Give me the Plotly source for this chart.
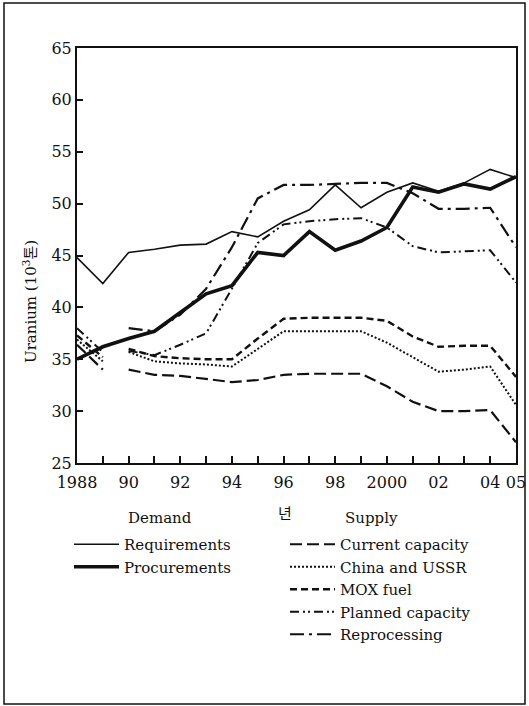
import plotly.graph_objects as go

# ---------------- data ----------------
years = list(range(1988, 2006))
supply_years = list(range(1990, 2006))
early_years = [1988, 1989]

requirements = [44.8, 42.3, 45.3, 45.6, 46.0, 46.1, 47.3, 46.8, 48.3, 49.4, 51.8, 49.6,
                51.1, 52.0, 51.2, 52.0, 53.3, 52.5]
procurements = [35.0, 36.2, 37.0, 37.7, 39.5, 41.3, 42.1, 45.3, 45.0, 47.3, 45.5, 46.4,
                47.7, 51.6, 51.1, 51.9, 51.4, 52.6]

current_capacity = [34.0, 33.5, 33.4, 33.1, 32.8, 33.0, 33.5, 33.6, 33.6, 33.6,
                    32.4, 30.9, 30.0, 30.0, 30.1, 27.0]
china_ussr = [35.7, 34.8, 34.6, 34.5, 34.3, 36.0, 37.7, 37.7, 37.7, 37.7,
              36.6, 35.2, 33.8, 34.0, 34.3, 30.6]
mox_fuel = [36.0, 35.3, 35.1, 35.0, 35.0, 37.0, 38.9, 39.0, 39.0, 39.0,
            38.7, 37.2, 36.2, 36.3, 36.3, 33.3]
planned_capacity = [35.8, 35.4, 36.4, 37.5, 41.8, 46.2, 48.0, 48.3, 48.5, 48.6,
                    47.7, 45.9, 45.3, 45.4, 45.5, 42.4]
reprocessing = [38.0, 37.7, 39.3, 41.8, 45.8, 50.5, 51.8, 51.8, 51.9, 52.0,
                52.0, 51.0, 49.5, 49.5, 49.6, 45.8]

early_current = [36.4, 34.0]
early_china = [36.9, 34.8]
early_mox = [37.3, 35.2]
early_planned = [38.0, 35.7]

y_tick_values = [25, 30, 35, 40, 45, 50, 55, 60, 65]
x_tick_values = [1988, 1990, 1992, 1994, 1996, 1998, 2000, 2002, 2004, 2005]
x_tick_labels = ["1988", "90", "92", "94", "96", "98", "2000", "02", "04", "05"]

# ---------------- figure ----------------
SERIF = "DejaVu Serif, Liberation Serif, Noto Sans CJK KR, serif"
BLACK = "#111111"

fig = go.Figure()

fig.add_trace(go.Scatter(x=years, y=requirements, mode="lines", name="Requirements",
                         line=dict(color=BLACK, width=1.6), legend="legend"))
fig.add_trace(go.Scatter(x=years, y=procurements, mode="lines", name="Procurements",
                         line=dict(color=BLACK, width=3.6), legend="legend"))

supply = [
    ("Current capacity", current_capacity, early_current, "12px,5px", 2.2),
    ("China and USSR", china_ussr, early_china, "2px,2px", 2.0),
    ("MOX fuel", mox_fuel, early_mox, "7px,4px", 2.4),
    ("Planned capacity", planned_capacity, early_planned, "9px,4px,2px,3px,2px,4px", 2.0),
    ("Reprocessing", reprocessing, None, "14px,5px,3px,5px", 2.2),
]
for name, vals, early, dash, w in supply:
    fig.add_trace(go.Scatter(x=supply_years, y=vals, mode="lines", name=name,
                             legendgroup=name, legend="legend2",
                             line=dict(color=BLACK, width=w, dash=dash)))
    if early is not None:
        fig.add_trace(go.Scatter(x=early_years, y=early, mode="lines", name=name,
                                 legendgroup=name, legend="legend2", showlegend=False,
                                 line=dict(color=BLACK, width=w, dash=dash)))

L, R, T, B = 77, 13, 48, 243
W, H = 529, 706
pw, ph = W - L - R, H - T - B


def px(x):
    return (x - L) / pw


def py(y):
    return (H - B - y) / ph


LEG_FONT = dict(family=SERIF, size=15, color=BLACK)


def label(text, x, y, size=15, family=SERIF, angle=0):
    return dict(text=text, x=px(x), y=py(y), xref="paper", yref="paper",
                xanchor="center", yanchor="middle", textangle=angle,
                showarrow=False, font=dict(family=family, size=size, color=BLACK))


fig.update_layout(
    width=W, height=H,
    margin=dict(l=L, r=R, t=T, b=B, autoexpand=False),
    paper_bgcolor="white", plot_bgcolor="white",
    font=dict(family=SERIF, size=16, color=BLACK),
    xaxis=dict(range=[1988, 2005], tickmode="array", tickvals=x_tick_values,
               ticktext=x_tick_labels, ticks="inside", ticklen=7, tickwidth=1.5,
               tickcolor=BLACK, showline=True, linewidth=2, linecolor=BLACK,
               mirror=True, showgrid=False, zeroline=False, automargin=False,
               ticklabelstandoff=4,
               minor=dict(tickmode="linear", tick0=1988, dtick=1, ticks="inside",
                          ticklen=7, tickwidth=1.5, tickcolor=BLACK, showgrid=False),
               tickfont=dict(family=SERIF, size=16, color=BLACK)),
    yaxis=dict(range=[25, 65], tickmode="array", tickvals=y_tick_values,
               ticks="inside", ticklen=6, tickwidth=2, tickcolor=BLACK,
               showline=True, linewidth=2, linecolor=BLACK, mirror=True,
               showgrid=False, zeroline=False, automargin=False,
               tickfont=dict(family=SERIF, size=16, color=BLACK)),
    showlegend=True,
    legend=dict(x=px(69), y=py(528), xanchor="left", yanchor="top",
                bgcolor="rgba(0,0,0,0)", font=LEG_FONT,
                tracegroupgap=0, itemwidth=45),
    legend2=dict(x=px(285), y=py(528), xanchor="left", yanchor="top",
                 bgcolor="rgba(0,0,0,0)", font=LEG_FONT,
                 tracegroupgap=0, itemwidth=45),
    annotations=[
        label("Uranium (10<sup>3</sup>톤)", 30, 302, angle=-90),
        label("Demand", 160, 518),
        label("Supply", 371, 518),
        label("년", 285, 512, family="Noto Sans CJK KR"),
    ],
    shapes=[
        dict(type="rect", xref="paper", yref="paper",
             x0=px(4), x1=px(525), y0=py(704), y1=py(3),
             line=dict(color=BLACK, width=1.5), layer="below"),
    ],
)

fig.write_html("out.html", config={"displayModeBar": False},
               post_script="document.body.style.margin='0px';")
